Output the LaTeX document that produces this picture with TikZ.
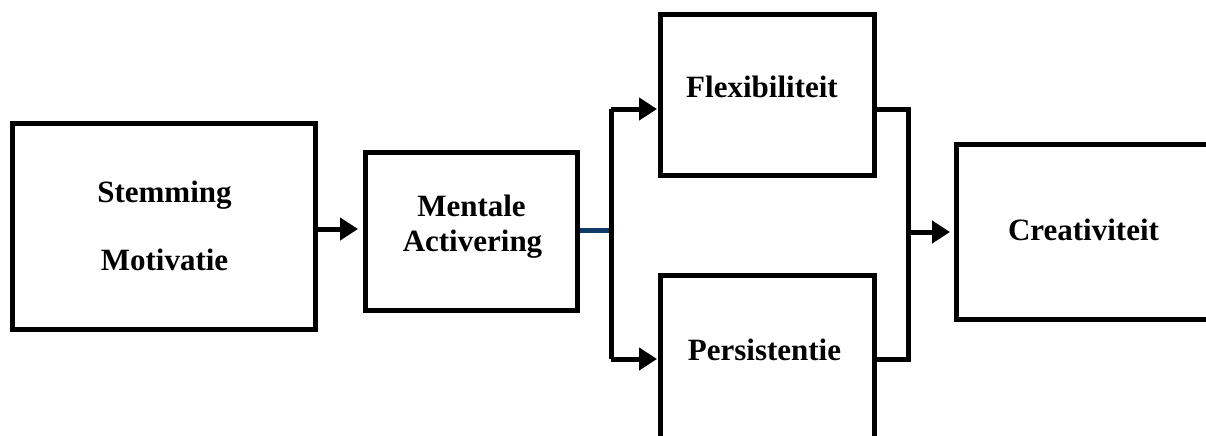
\documentclass[tikz,border=0pt]{standalone}
\usepackage{fontspec}
\setmainfont{Liberation Serif}
\usetikzlibrary{arrows.meta}
\definecolor{navyline}{RGB}{16,58,106}
\tikzset{
  box/.style={draw=black, line width=2.5pt, rectangle, inner sep=0pt, fill=none},
  lbl/.style={anchor=base, inner sep=0pt, font=\fontsize{15.5pt}{18pt}\selectfont\bfseries},
  conn/.style={draw=black, line width=2.5pt, line join=miter},
  arr/.style={conn, -{Triangle[length=9pt,width=11pt]}},
  bluelink/.style={draw=navyline, line width=2.5pt}
}
\begin{document}
\begin{tikzpicture}[x=0.5pt,y=-0.5pt]
\clip (0,0) rectangle (1206,435);
\fill[white] (0,0) rectangle (1206,435);
% boxes
\node[box, minimum width=151.5pt, minimum height=103pt] (b1) at (164,226.5) {};
\node[box, minimum width=106pt, minimum height=79pt] (b2) at (471.5,231.5) {};
\node[box, minimum width=107pt, minimum height=80.5pt] (flex) at (767.5,95) {};
\node[box, minimum width=107pt, minimum height=89.5pt] (pers) at (767.5,365) {};
\node[box, minimum width=134.75pt, minimum height=87.5pt] (crea) at (1091.25,232) {};
% labels
\node[lbl] (t1) at (164.5,202) {Stemming};
\node[lbl] (t2) at (164.5,270) {Motivatie};
\node[lbl] (t3) at (471.5,216) {Mentale};
\node[lbl] (t4) at (472.5,251) {Activering};
\node[lbl] (t5) at (762,97) {Flexibiliteit};
\node[lbl] (t6) at (764.5,360) {Persistentie};
\node[lbl] (t7) at (1083.5,240) {Creativiteit};
% junction coordinates
\coordinate (jL) at (611,230.5);
\coordinate (jR) at (908,232);
\coordinate (fW) at ([yshift=-7pt]flex.west);
\coordinate (pW) at ([yshift=3pt]pers.west);
\coordinate (fE) at ([yshift=-7pt]flex.east);
\coordinate (pE) at ([yshift=3pt]pers.east);
% connectors
\draw[arr, shorten >=2.5pt] ([yshift=-1.25pt]b1.east) -- ([yshift=-1.25pt]b1.east -| b2.west);
\draw[bluelink] (b2.east |- jL) -- (jL);
\draw[conn] (jL |- fW) -- (jL |- pW);
\draw[arr, shorten >=0.5pt] (jL |- fW) -- (fW);
\draw[arr, shorten >=0.5pt] (jL |- pW) -- (pW);
\draw[conn] (fE) -- (fE -| jR) -- (pE -| jR) -- (pE);
\draw[arr, shorten >=2pt] (jR) -- (jR -| crea.west);
\end{tikzpicture}
\end{document}
